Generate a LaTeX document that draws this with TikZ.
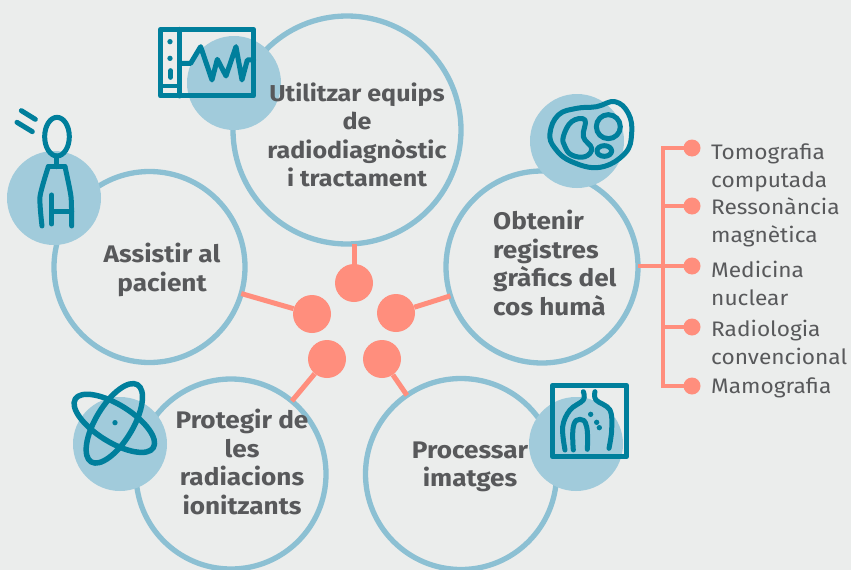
\documentclass[tikz,border=0pt]{standalone}
\usepackage{fontspec}
\setmainfont{Fira Sans}
\newfontfamily\wideb[FakeStretch=1.09]{Fira Sans}
\newfontfamily\widel[FakeStretch=1.08]{Fira Sans}
\definecolor{bgc}{HTML}{EBEDEC}
\definecolor{ringc}{HTML}{8CC0D3}
\definecolor{iconbg}{HTML}{A1CBDB}
\definecolor{teal}{HTML}{007F9C}
\definecolor{salmon}{HTML}{FF8E7D}
\definecolor{txt}{HTML}{58595B}
\tikzset{
  ring/.style={circle,draw=ringc,line width=5.3pt,inner sep=0pt,outer sep=0pt,minimum size=#1},
  badge/.style={circle,fill=iconbg,inner sep=0pt,minimum size=94pt},
  hub/.style={circle,fill=salmon,inner sep=0pt,minimum size=38pt},
  leaf/.style={circle,fill=salmon,inner sep=0pt,minimum size=17pt},
  link/.style={draw=salmon,line width=3.5pt},
  ink/.style={draw=teal,line width=5pt,line cap=round,line join=round},
  main/.style={text=txt,font=\wideb\bfseries\fontsize{24}{28.5}\selectfont,inner sep=0pt},
  maintop/.style={main,font=\wideb\bfseries\fontsize{23}{28.5}\selectfont},
  side/.style={text=txt,anchor=west,align=left,inner sep=0pt,font=\widel\fontsize{21}{28}\selectfont},
  icon/.style={shift={#1},x=0.3333pt,y=-0.3333pt}
}
\begin{document}
\begin{tikzpicture}[x=1pt,y=-1pt]
\fill[bgc] (0,0) rectangle (851,570);
\useasboundingbox (0,0) rectangle (851,570);
\clip (0,0) rectangle (851,570);
% hubs
\node[hub] (h1) at (354,283) {};
\node[hub] (h2) at (312,314) {};
\node[hub] (h3) at (396,313) {};
\node[hub] (h4) at (327,359) {};
\node[hub] (h5) at (382,359) {};
% rings
\node[ring=228pt] (top) at (347,130) {};
\node[ring=191pt] (left) at (149.5,267) {};
\node[ring=192pt] (right) at (542,267) {};
\node[ring=190pt] (bl) at (231,474) {};
\node[ring=191pt] (br) at (461,474) {};
% badges
\node[badge] (btop) at (234,83) {};
\node[badge] (bleft) at (54,198) {};
\node[badge] (bright) at (577,141) {};
\node[badge] (bbl) at (120,444) {};
\node[badge] (bbr) at (576,444) {};
% links
\draw[link,line width=5pt] (h1.center) -- (h1.center |- top.south);
\draw[link,line width=5pt] (h2) -- (left);
\draw[link,line width=5pt] (h3) -- (right);
\draw[link,line width=5pt] (h4) -- (bl);
\draw[link,line width=5pt] (h5) -- (br);
% tree
\node[leaf] (m1) at (692,148) {};
\node[leaf] (m2) at (692,206) {};
\node[leaf] (m3) at (692,266) {};
\node[leaf] (m4) at (692,327) {};
\node[leaf] (m5) at (692,386) {};
\coordinate (tt) at (663,148);
\coordinate (tb) at (663,386);
\draw[link] (m1.center) -- (tt) -- (tb) -- (m5.center);
\draw[link] (m2.center) -- (m2.center -| tt);
\draw[link] (m4.center) -- (m4.center -| tt);
\draw[link] (m3.center) -- (m3.center -| right.east);
% texts
\node[maintop,align=center] (t1) at (357,135) {Utilitzar equips\\de\\radiodiagnòstic\\i tractament};
\node[main,align=center] (t2) at (162,270) {Assistir al\\pacient};
\node[main,align=left,anchor=west] (t3) at (493,263) {Obtenir\\registres\\gràfics del\\cos humà};
\node[main,align=center] (t4) at (242,462) {Protegir de\\les\\radiacions\\ionitzants};
\node[main,align=center] (t5) at (470,467) {Processar\\imatges};
\node[side] (s1) at (711,168) {Tomografia\\computada};
\node[side] (s2) at (711,222) {Ressonància\\magnètica};
\node[side] (s3) at (711,283) {Medicina\\nuclear};
\node[side] (s4) at (711,342) {Radiologia\\convencional};
\node[side] (s5) at (711,388) {Mamografia};
% monitor icon
\begin{scope}[icon={(0,0)}]
\draw[ink] (481,88) rectangle (761,288);
\draw[ink] (540,88) -- (540,288);
\draw[ink,line width=3.5pt] (481,258) -- (540,258);
\fill[teal] (510,125) circle (8);
\fill[teal] (510,175) circle (8);
\draw[ink] (512,212) -- (512,232);
\draw[ink] plot coordinates {(540,190) (572,190) (602,140) (636,240) (652,178) (678,228) (708,140) (726,240) (742,180) (761,180)};
\end{scope}
% person icon
\begin{scope}[icon={(0,0)}]
\draw[ink] (171,410) ellipse (37 and 58);
\draw[ink] (171,468) -- (171,500);
\draw[ink] plot[smooth,tension=.4] coordinates {(126,678) (120,590) (145,500)};
\draw[ink] (145,500) -- (195,500);
\draw[ink] plot[smooth,tension=.4] coordinates {(195,500) (213,590) (215,678)};
\draw[ink] (155,585) -- (155,672);
\draw[ink] (155,636) -- (215,636);
\draw[ink] (64,332) -- (106,358);
\draw[ink] (51,367) -- (97,395);
\end{scope}
% body section icon
\begin{scope}[icon={(500,80)}]
\draw[ink] plot[smooth cycle,tension=.7] coordinates {(150,160) (175,105) (230,85) (290,80) (345,65) (385,100) (395,160) (375,220) (300,262) (215,245) (165,205)};
\draw[ink] plot[smooth cycle,tension=.7] coordinates {(190,170) (215,125) (255,120) (250,170) (275,205) (255,230) (215,225) (195,200)};
\draw[ink] (325,140) circle (36);
\draw[ink] (313,213) ellipse (22 and 16);
\end{scope}
% atom icon
\begin{scope}[icon={(50,370)}]
\draw[ink,line width=5.5pt] (193,160) ellipse[x radius=138,y radius=56,rotate=-32];
\draw[ink,line width=5.5pt] (193,160) ellipse[x radius=135,y radius=56,rotate=59];
\fill[teal] (195,158) circle (8);
\end{scope}
% x-ray icon
\begin{scope}[icon={(520,370)}]
\draw[ink] (97,46) rectangle (320,260);
\draw[ink] plot[smooth,tension=.6] coordinates {(190,65) (190,90) (150,120) (128,170) (135,240)};
\draw[ink] plot[smooth,tension=.6] coordinates {(225,65) (228,90) (270,120) (275,180) (267,235)};
\draw[ink] plot[smooth,tension=.8] coordinates {(160,240) (160,170) (180,148) (200,170) (202,238)};
\fill[teal] (212,133) circle (8);
\fill[teal] (230,157) circle (8);
\fill[teal] (238,173) circle (8);
\end{scope}
\end{tikzpicture}
\end{document}
